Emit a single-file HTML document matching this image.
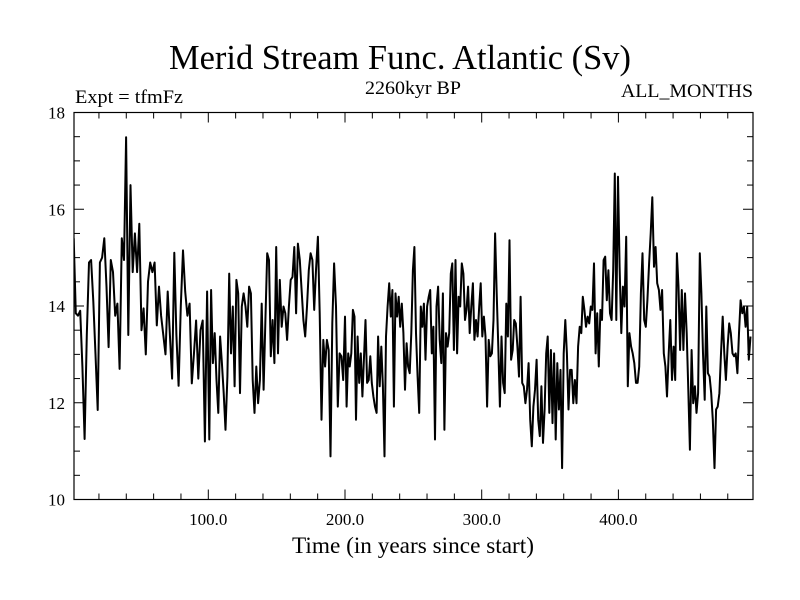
<!DOCTYPE html>
<html><head><meta charset="utf-8"><style>
body{margin:0;background:#fff}
svg{display:block;font-family:"Liberation Serif",serif}
</style></head><body>
<svg id="chart" width="800" height="600" viewBox="0 0 800 600" xmlns="http://www.w3.org/2000/svg">
<rect width="800" height="600" fill="#fff"/>
<text x="400" y="69" text-anchor="middle" font-size="35" textLength="462" lengthAdjust="spacingAndGlyphs">Merid Stream Func. Atlantic (Sv)</text>
<text x="75" y="103" font-size="19" textLength="108" lengthAdjust="spacingAndGlyphs">Expt = tfmFz</text>
<text x="413" y="94" text-anchor="middle" font-size="19" textLength="96" lengthAdjust="spacingAndGlyphs">2260kyr BP</text>
<text x="753" y="97" text-anchor="end" font-size="19" textLength="132" lengthAdjust="spacingAndGlyphs">ALL_MONTHS</text>
<text x="413" y="553" text-anchor="middle" font-size="23" textLength="242" lengthAdjust="spacingAndGlyphs">Time (in years since start)</text>
<g id="ticks"></g>
<g id="labels" font-size="17"></g>
<clipPath id="clip"><rect x="74" y="112.5" width="679" height="387"/></clipPath>
<path id="series" clip-path="url(#clip)" fill="none" stroke="#000" stroke-width="2" stroke-linejoin="round"/>
<rect x="74" y="112.5" width="679" height="387" fill="none" stroke="#000" stroke-width="1.2"/>
</svg>
<script>
const xTickLabels=["100.0","200.0","300.0","400.0"];
const xTickValues=[100,200,300,400];
const yTickValues=[10,12,14,16,18];
const segStarts=[1.5,100.7,200,299.3,398.5];
const segEnd=497.8;
const seg1=[15.4,13.85,13.8,13.9,12.75,11.25,13.4,14.9,14.95,14.1,13.0,11.85,14.9,15.0,15.4,14.4,13.15,14.95,14.7,13.8,14.05,12.7,15.4,14.95,17.49,13.4,16.5,14.7,15.5,14.7,15.7,13.5,13.95,13.0,14.5,14.9,14.7,14.9,13.6,14.4,13.8,13.4,13.0,14.3,13.4,12.5,15.1,13.4,12.35,14.0,15.15,14.3,13.8,14.05,12.4,13.0,13.7,12.5,13.5,13.7,11.2,14.3];
const seg2=[11.24,14.33,12.82,13.44,12.47,11.79,13.37,12.82,12.2,11.44,12.54,14.67,13.02,13.99,12.34,14.54,14.26,12.2,13.99,14.26,13.99,13.57,14.4,14.26,12.47,11.79,12.75,11.99,12.47,14.05,12.27,13.71,15.09,14.95,12.96,13.71,12.82,15.22,13.02,14.54,13.57,13.99,13.85,13.3,13.99,14.54,14.6,15.22,13.85,15.29,14.95,14.33,13.71,13.37,13.99,14.74,15.09,14.95,13.92,14.74,15.43,13.85,11.65,13.3,12.75,13.3,13.09,10.89,13.64,14.88,13.99,11.92,13.02,12.96,12.47];
const seg3=[13.78,11.92,13.02,12.75,13.02,13.92,13.78,11.65,13.37,12.41,13.02,12.13,12.89,13.71,12.41,12.47,12.96,12.41,12.13,11.92,11.79,13.37,12.34,13.16,12.34,10.89,13.37,13.99,14.47,13.78,14.33,11.92,14.26,13.78,14.19,13.57,14.05,13.44,12.27,13.23,12.75,12.61,13.44,14.74,15.22,13.44,12.54,11.79,13.99,13.57,14.05,12.89,13.99,14.19,14.33,13.02,13.57,11.24,13.99,14.4,13.3,12.82,14.26,11.44,13.44,13.16,13.44,14.67,14.88,13.09,14.95,13.02,14.19,13.99,14.88,14.67,13.71,13.92,14.4,13.44,13.99,14.47,13.3,13.71,13.37,13.99];
const seg4=[14.47,13.37,13.78,13.37,11.92,13.3,12.96,13.02,13.71,15.5,14.26,13.16,11.92,13.37,12.41,12.2,14.05,13.37,15.36,12.89,13.09,13.71,13.64,13.16,12.54,14.19,12.41,12.34,11.99,12.27,12.82,11.65,11.1,11.92,12.27,12.89,11.65,11.31,12.34,11.17,11.86,13.02,13.37,11.79,13.09,11.58,13.02,11.24,12.82,11.86,12.68,10.65,13.02,13.71,13.02,11.86,12.68,12.68,11.99,12.47,11.99,13.16,13.57,13.44,14.19,13.92,13.57,13.78,13.64,13.99,13.92,14.88,13.02,13.85,12.75,13.92,13.71,14.95,15.02,14.12,14.74,13.85,13.71,14.74,16.74];
const seg5=[13.71,16.67,14.81,13.44,14.4,13.99,15.43,12.34,13.44,13.16,13.02,12.82,12.41,12.41,12.75,14.26,15.09,13.71,13.57,14.12,14.88,15.5,16.25,14.81,15.22,14.47,14.33,13.92,14.33,13.02,12.75,12.13,13.02,13.71,12.47,13.16,12.47,15.09,14.4,13.09,14.33,13.09,14.26,13.44,12.27,11.03,13.09,11.99,12.34,11.79,12.2,15.09,14.26,13.02,12.06,13.99,12.61,12.54,12.2,11.65,10.65,11.86,11.92,12.2,13.02,13.78,13.02,12.47,13.16,13.64,13.44,13.02,12.96,13.02,12.61,13.44,14.12,13.85,13.99,13.57,13.99,12.89,13.37];
const segments=[seg1,seg2,seg3,seg4,seg5];
const x=v=>71.6+v*1.367;
const y=v=>499.5-(v-10)*48.375;
const NS="http://www.w3.org/2000/svg";
let d="";
segments.forEach((s,i)=>{
  const a=segStarts[i], b=i<4?segStarts[i+1]:segEnd;
  s.forEach((v,j)=>{
    const yr=a+(b-a)*j/s.length;
    d+=(d?"L":"M")+x(yr).toFixed(1)+","+y(v).toFixed(1);
  });
});
document.getElementById('series').setAttribute('d',d);
const tg=document.getElementById('ticks'), lg=document.getElementById('labels');
function line(x1,y1,x2,y2,name){
  const l=document.createElementNS(NS,'line');
  l.setAttribute('x1',x1);l.setAttribute('y1',y1);l.setAttribute('x2',x2);l.setAttribute('y2',y2);
  l.setAttribute('stroke','#000');l.setAttribute('stroke-width','1');
  
  
  tg.appendChild(l);
}
for(let t=20;t<=480;t+=20){
  const major=t%100===0, L=major?10:6, px=x(t);
  line(px,499.5,px,499.5-L,'x-tick');
  line(px,112.5,px,112.5+L,'x-tick-top');
}
for(let v=10.5;v<18;v+=0.5){
  const major=Number.isInteger(v)&&v%2===0, L=major?10:6, py=y(v);
  line(74,py,74+L,py,'y-tick');
  line(753,py,753-L,py,'y-tick-right');
}
xTickValues.forEach((t,i)=>{
  const e=document.createElementNS(NS,'text');
  e.setAttribute('x',x(t));e.setAttribute('y',525);e.setAttribute('text-anchor','middle');
  e.textContent=xTickLabels[i];
  
  
  lg.appendChild(e);
});
yTickValues.forEach(v=>{
  const e=document.createElementNS(NS,'text');
  e.setAttribute('x',65);e.setAttribute('y',y(v)+6);e.setAttribute('text-anchor','end');
  e.textContent=String(v);
  
  
  lg.appendChild(e);
});
</script>
</body></html>
